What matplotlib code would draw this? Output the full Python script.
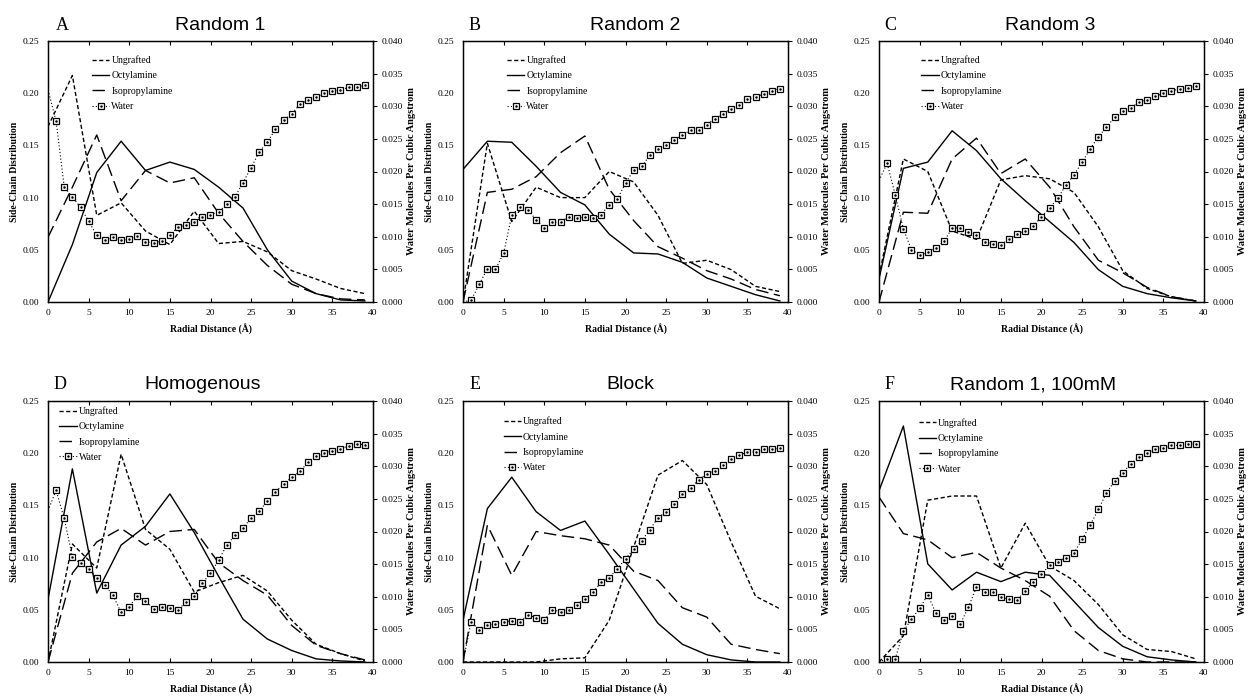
import matplotlib
matplotlib.use("Agg")
import matplotlib.pyplot as plt

plt.rcParams['font.family'] = ['Liberation Serif', 'DejaVu Serif']

W, H = 1249, 696

# side-chain distributions are sampled every 3 A, water every 1 A
dist = [0, 3, 6, 9, 12, 15, 18, 21, 24, 27, 30, 33, 36, 39]
water_dist = list(range(40))

titles = ['Random 1', 'Random 2', 'Random 3', 'Homogenous', 'Block', 'Random 1, 100mM']
letters = ['A', 'B', 'C', 'D', 'E', 'F']

a_ungrafted = [0.168, 0.217, 0.083, 0.095, 0.068, 0.055, 0.087, 0.056, 0.058, 0.048, 0.030, 0.022, 0.013, 0.008]
a_octyl = [0.0, 0.055, 0.124, 0.154, 0.126, 0.134, 0.127, 0.110, 0.090, 0.050, 0.020, 0.008, 0.002, 0.001]
a_isoprop = [0.062, 0.110, 0.160, 0.097, 0.126, 0.114, 0.119, 0.085, 0.058, 0.035, 0.017, 0.008, 0.003, 0.002]
a_water = [0.0325, 0.0277, 0.0176, 0.0161, 0.0145, 0.0124, 0.0102, 0.0095, 0.0099, 0.0095,
           0.0096, 0.0101, 0.0092, 0.0091, 0.0093, 0.0102, 0.0115, 0.0118, 0.0123, 0.0130,
           0.0134, 0.0138, 0.0150, 0.0161, 0.0183, 0.0206, 0.0230, 0.0245, 0.0265, 0.0279,
           0.0288, 0.0303, 0.0309, 0.0314, 0.0320, 0.0323, 0.0325, 0.0329, 0.0329, 0.0332]

b_ungrafted = [0.0, 0.152, 0.077, 0.110, 0.100, 0.100, 0.125, 0.115, 0.083, 0.037, 0.040, 0.031, 0.015, 0.010]
b_octyl = [0.127, 0.154, 0.153, 0.130, 0.105, 0.093, 0.065, 0.047, 0.046, 0.038, 0.023, 0.015, 0.007, 0.001]
b_isoprop = [0.0, 0.105, 0.108, 0.120, 0.143, 0.159, 0.108, 0.078, 0.053, 0.042, 0.030, 0.022, 0.012, 0.006]
b_water = [0.0, 0.0003, 0.0027, 0.0051, 0.0050, 0.0075, 0.0133, 0.0146, 0.0141, 0.0126,
           0.0113, 0.0122, 0.0123, 0.0130, 0.0128, 0.0130, 0.0128, 0.0134, 0.0149, 0.0158,
           0.0182, 0.0202, 0.0208, 0.0225, 0.0234, 0.0241, 0.0248, 0.0256, 0.0263, 0.0264,
           0.0272, 0.0281, 0.0288, 0.0296, 0.0302, 0.0311, 0.0314, 0.0319, 0.0324, 0.0327]

c_ungrafted = [0.025, 0.137, 0.125, 0.068, 0.060, 0.117, 0.121, 0.118, 0.105, 0.072, 0.030, 0.013, 0.005, 0.001]
c_octyl = [0.022, 0.128, 0.134, 0.164, 0.145, 0.118, 0.097, 0.077, 0.057, 0.031, 0.015, 0.008, 0.004, 0.001]
c_isoprop = [0.0, 0.086, 0.085, 0.137, 0.157, 0.123, 0.137, 0.110, 0.072, 0.040, 0.028, 0.014, 0.005, 0.001]
c_water = [0.0186, 0.0213, 0.0164, 0.0112, 0.0080, 0.0072, 0.0076, 0.0083, 0.0093, 0.0113,
           0.0114, 0.0107, 0.0102, 0.0092, 0.0089, 0.0088, 0.0096, 0.0104, 0.0109, 0.0116,
           0.0131, 0.0144, 0.0159, 0.0179, 0.0195, 0.0214, 0.0235, 0.0253, 0.0268, 0.0283,
           0.0293, 0.0298, 0.0306, 0.0310, 0.0315, 0.0320, 0.0323, 0.0327, 0.0328, 0.0331]

d_ungrafted = [0.0, 0.113, 0.090, 0.199, 0.127, 0.108, 0.067, 0.076, 0.083, 0.068, 0.040, 0.017, 0.008, 0.001]
d_octyl = [0.060, 0.185, 0.066, 0.112, 0.130, 0.161, 0.124, 0.082, 0.041, 0.022, 0.011, 0.003, 0.001, 0.0]
d_isoprop = [0.0, 0.085, 0.115, 0.128, 0.112, 0.125, 0.127, 0.095, 0.078, 0.064, 0.035, 0.016, 0.008, 0.002]
d_water = [0.0232, 0.0263, 0.0220, 0.0161, 0.0151, 0.0143, 0.0129, 0.0118, 0.0102, 0.0076,
           0.0085, 0.0101, 0.0094, 0.0081, 0.0085, 0.0082, 0.0080, 0.0092, 0.0101, 0.0121,
           0.0136, 0.0156, 0.0179, 0.0194, 0.0206, 0.0220, 0.0232, 0.0246, 0.0261, 0.0273,
           0.0283, 0.0292, 0.0306, 0.0315, 0.0321, 0.0323, 0.0327, 0.0331, 0.0334, 0.0333]

e_ungrafted = [0.0, 0.0, 0.0, 0.0, 0.003, 0.004, 0.040, 0.110, 0.179, 0.193, 0.170, 0.115, 0.063, 0.051]
e_octyl = [0.040, 0.147, 0.177, 0.144, 0.126, 0.135, 0.103, 0.070, 0.037, 0.017, 0.007, 0.002, 0.0, 0.0]
e_isoprop = [0.0, 0.131, 0.083, 0.125, 0.121, 0.118, 0.112, 0.087, 0.078, 0.052, 0.043, 0.017, 0.012, 0.008]
e_water = [0.0, 0.0062, 0.0049, 0.0056, 0.0058, 0.0062, 0.0063, 0.0062, 0.0072, 0.0068,
           0.0064, 0.0080, 0.0077, 0.0080, 0.0088, 0.0097, 0.0107, 0.0122, 0.0129, 0.0143,
           0.0158, 0.0173, 0.0186, 0.0203, 0.0221, 0.0230, 0.0242, 0.0258, 0.0267, 0.0279,
           0.0288, 0.0293, 0.0302, 0.0311, 0.0317, 0.0322, 0.0322, 0.0326, 0.0326, 0.0328]

f_ungrafted = [0.0, 0.025, 0.155, 0.159, 0.159, 0.090, 0.133, 0.092, 0.078, 0.055, 0.026, 0.012, 0.010, 0.003]
f_octyl = [0.164, 0.226, 0.094, 0.069, 0.086, 0.077, 0.086, 0.083, 0.058, 0.033, 0.015, 0.005, 0.002, 0.0]
f_isoprop = [0.158, 0.123, 0.117, 0.100, 0.105, 0.090, 0.078, 0.063, 0.030, 0.011, 0.003, 0.0, 0.0, 0.0]
f_water = [0.0, 0.0005, 0.0005, 0.0047, 0.0066, 0.0082, 0.0103, 0.0075, 0.0064, 0.0071,
           0.0058, 0.0084, 0.0115, 0.0108, 0.0107, 0.0100, 0.0096, 0.0095, 0.0109, 0.0123,
           0.0135, 0.0148, 0.0154, 0.0160, 0.0167, 0.0188, 0.0210, 0.0234, 0.0259, 0.0277,
           0.0290, 0.0304, 0.0314, 0.0321, 0.0326, 0.0328, 0.0332, 0.0332, 0.0334, 0.0334]

ungrafted = [a_ungrafted, b_ungrafted, c_ungrafted, d_ungrafted, e_ungrafted, f_ungrafted]
octyl = [a_octyl, b_octyl, c_octyl, d_octyl, e_octyl, f_octyl]
isoprop = [a_isoprop, b_isoprop, c_isoprop, d_isoprop, e_isoprop, f_isoprop]
water = [a_water, b_water, c_water, d_water, e_water, f_water]

# pixel layout of each panel: axes left, axes top, title centre x, letter x
lefts = [48, 463, 879, 48, 463, 879]
tops = [41, 41, 41, 401, 401, 401]
title_x = [220, 635, 1050, 203, 630, 1033]
letter_x = [62, 475, 890, 60, 475, 890]
leg_pos = [(0.135, 0.945), (0.135, 0.945), (0.13, 0.945), (0.035, 0.98), (0.125, 0.94), (0.122, 0.935)]

fig = plt.figure(figsize=(W / 100, H / 100), dpi=100)

for i in range(6):
    ax = fig.add_axes([lefts[i] / W, 1 - (tops[i] + 261) / H, 325 / W, 261 / H])
    ax2 = ax.twinx()

    l1, = ax.plot(dist, ungrafted[i], color='black', lw=1.0, ls=(0, (3, 1.8)))
    l2, = ax.plot(dist, octyl[i], color='black', lw=1.0, ls='-')
    l3, = ax.plot(dist, isoprop[i], color='black', lw=1.0, ls=(0, (9, 4)))
    l4, = ax2.plot(water_dist, water[i], color='black', lw=0.8, ls=(0, (1, 2)),
                   marker='s', ms=5, mfc='white', mec='black', mew=0.9,
                   markevery=list(range(1, 40)))
    l5, = ax2.plot(water_dist[1:], water[i][1:], ls='none', marker='.', ms=1.6, color='black')

    ax.set_xlim(0, 40)
    ax.set_ylim(0, 0.25)
    ax2.set_ylim(0, 0.04)
    ax.set_xticks([0, 5, 10, 15, 20, 25, 30, 35, 40])
    ax.set_yticks([0, 0.05, 0.10, 0.15, 0.20, 0.25])
    ax.set_yticklabels(['0.00', '0.05', '0.10', '0.15', '0.20', '0.25'])
    ax2.set_yticks([0, 0.005, 0.010, 0.015, 0.020, 0.025, 0.030, 0.035, 0.040])
    ax2.set_yticklabels(['0.000', '0.005', '0.010', '0.015', '0.020', '0.025', '0.030', '0.035', '0.040'])

    ax.tick_params(axis='x', direction='in', top=True, length=3, width=0.8, labelsize=6.8, pad=5)
    ax.tick_params(axis='y', length=0, labelsize=6.8, pad=6)
    ax2.tick_params(axis='y', direction='out', length=3, width=0.8, labelsize=6.8, pad=3)
    for a in (ax, ax2):
        for s in a.spines.values():
            s.set_linewidth(0.9)

    ax.set_xlabel('Radial Distance (Å)', fontsize=7, fontweight='bold')
    ax.xaxis.set_label_coords(0.5, -0.085)
    ax.set_ylabel('Side-Chain Distribution', fontsize=7, fontweight='bold')
    ax.yaxis.set_label_coords(-0.09, 0.5)
    ax2.set_ylabel('Water Molecules Per Cubic Angstrom', fontsize=7.5, fontweight='bold')
    ax2.yaxis.set_label_coords(1.105, 0.5)

    ax2.legend([l1, l2, l3, (l4, l5)], ['Ungrafted', 'Octylamine', 'Isopropylamine', 'Water'],
               loc='upper left', bbox_to_anchor=leg_pos[i], frameon=False,
               fontsize=7, handlelength=1.8, handletextpad=0.2, labelspacing=0.65,
               borderpad=0, borderaxespad=0)

    ty = 1 - (tops[i] - 16) / H
    fig.text(title_x[i] / W, ty, titles[i], family='Liberation Sans', fontsize=14,
             ha='center', va='center')
    fig.text(letter_x[i] / W, ty, letters[i], fontsize=13, ha='center', va='center')

fig.savefig('out.png', dpi=100)
